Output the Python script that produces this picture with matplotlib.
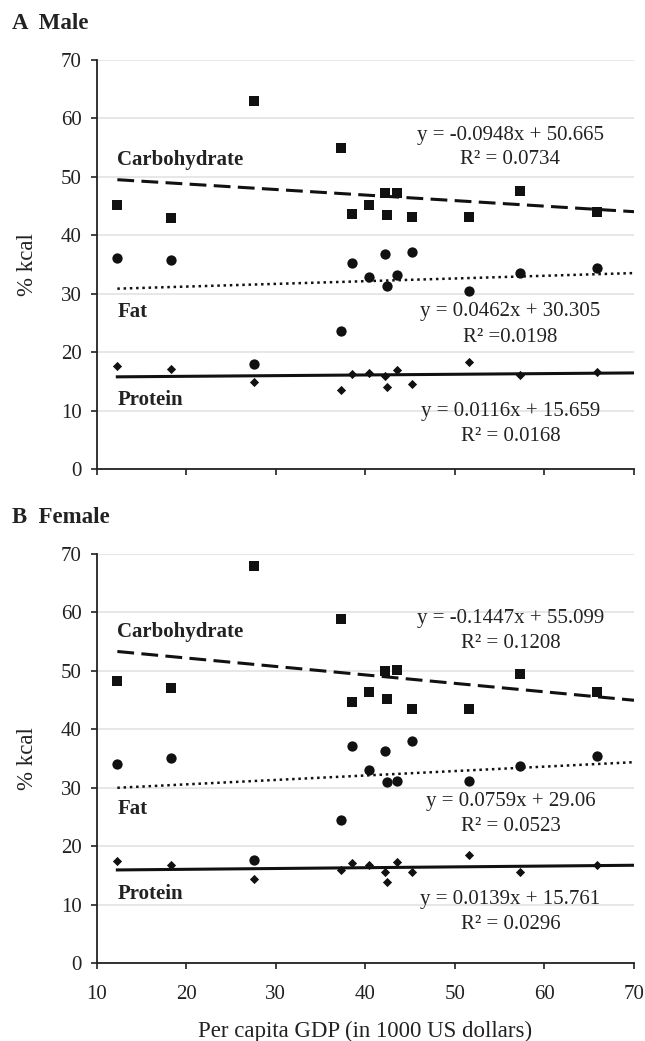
import numpy as np
import matplotlib.pyplot as plt

plt.rcParams["font.family"] = ["Liberation Serif", "DejaVu Serif"]

# per capita GDP (1000 US$), one value per country
gdp = [12.3, 18.3, 27.6, 37.3, 38.5, 40.4, 42.2, 42.4, 43.5, 45.2, 51.6, 57.3, 65.9]

# Male % kcal
male_carb = [45.1, 42.9, 63.0, 55.0, 43.6, 45.1, 47.3, 43.4, 47.2, 43.1, 43.2, 47.6, 44.0]
male_fat = [36.1, 35.7, 18.0, 23.6, 35.2, 32.8, 36.8, 31.4, 33.2, 37.1, 30.5, 33.6, 34.4]
male_prot = [17.6, 17.2, 15.0, 13.6, 16.3, 16.4, 16.0, 14.1, 16.9, 14.6, 18.3, 16.2, 16.6]

# Female % kcal
female_carb = [48.2, 47.0, 67.9, 58.9, 44.6, 46.4, 49.9, 45.2, 50.2, 43.5, 43.5, 49.5, 46.3]
female_fat = [34.1, 35.1, 17.6, 24.4, 37.1, 33.0, 36.3, 30.9, 31.2, 38.0, 31.1, 33.7, 35.4]
female_prot = [17.4, 16.8, 14.3, 15.9, 17.1, 16.7, 15.5, 13.9, 17.3, 15.5, 18.5, 15.6, 16.7]

# trend line coefficients (slope, intercept): carb, fat, protein
male_fits = [(-0.0948, 50.665), (0.0462, 30.305), (0.0116, 15.659)]
female_fits = [(-0.1447, 55.099), (0.0759, 29.06), (0.0139, 15.761)]

male_eq = ["y = -0.0948x + 50.665", "y = 0.0462x + 30.305", "y = 0.0116x + 15.659"]
male_r2 = ["R\u00b2 = 0.0734", "R\u00b2 =0.0198", "R\u00b2 = 0.0168"]
female_eq = ["y = -0.1447x + 55.099", "y = 0.0759x + 29.06", "y = 0.0139x + 15.761"]
female_r2 = ["R\u00b2 = 0.1208", "R\u00b2 = 0.0523", "R\u00b2 = 0.0296"]

names = ["Carbohydrate", "Fat", "Protein"]

FS = 15


def draw_panel(ax, carb, fat, prot, fits, eqs, r2s, name_y, eq_y, r2_y, show_xlabels):
    ax.scatter(gdp, carb, marker="s", s=50, color="#111111", zorder=3, linewidths=0)
    ax.scatter(gdp, fat, marker="o", s=55, color="#111111", zorder=3, linewidths=0)
    ax.scatter(gdp, prot, marker="D", s=22, color="#111111", zorder=3, linewidths=0)

    xs = np.array([min(gdp), 70])
    styles = [dict(ls=(0, (5.5, 2.4)), lw=2.2), dict(ls=(0, (1, 1.5)), lw=1.8), dict(ls="-", lw=2.2)]
    for (m, b), st in zip(fits, styles):
        ax.plot(xs, m * xs + b, color="#111111", zorder=2, **st)

    for i in range(3):
        ax.text(12.3, name_y[i], names[i], fontsize=FS, fontweight="bold", va="center", ha="left",
                color="#222222")
        ax.text(56.2, eq_y[i], eqs[i], fontsize=FS, va="center", ha="center", color="#222222")
        ax.text(56.2, r2_y[i], r2s[i], fontsize=FS, va="center", ha="center", color="#222222")

    ax.set_xlim(10, 70)
    ax.set_ylim(0, 70)
    ax.set_yticks(range(0, 71, 10))
    ax.set_xticks(range(10, 71, 10))
    ax.grid(axis="y", color="#e3e3e3", lw=1.2)
    ax.set_axisbelow(True)
    for s in ["top", "right"]:
        ax.spines[s].set_visible(False)
    for s in ["left", "bottom"]:
        ax.spines[s].set_linewidth(1.3)
        ax.spines[s].set_color("#222222")
    ax.tick_params(direction="out", length=4, width=1.2, labelsize=FS, colors="#222222",
                   labelcolor="#222222")
    ax.tick_params(axis="y", pad=7)
    ax.tick_params(axis="x", pad=12)
    if not show_xlabels:
        ax.tick_params(axis="x", labelbottom=False)
    ax.set_ylabel("% kcal", fontsize=16.5, labelpad=16, color="#222222")


fig = plt.figure(figsize=(6.45, 10.41), dpi=100)
ax1 = fig.add_axes([0.150, 0.5492, 0.833, 0.3934])
ax2 = fig.add_axes([0.150, 0.0749, 0.833, 0.3929])

draw_panel(ax1, male_carb, male_fat, male_prot, male_fits, male_eq, male_r2,
           [52.9, 26.9, 11.9], [57.1, 26.9, 9.8], [52.9, 22.6, 5.6], False)
draw_panel(ax2, female_carb, female_fat, female_prot, female_fits, female_eq, female_r2,
           [56.6, 26.4, 11.8], [59.0, 27.6, 10.8], [54.7, 23.3, 6.6], True)

ax2.set_xlabel("Per capita GDP (in 1000 US dollars)", fontsize=16.5, labelpad=12, color="#222222")

fig.text(0.019, 0.977, "A  Male", fontsize=16.5, fontweight="bold", va="center", color="#222222")
fig.text(0.019, 0.503, "B  Female", fontsize=16.5, fontweight="bold", va="center", color="#222222")

fig.savefig("out.png", dpi=100)
